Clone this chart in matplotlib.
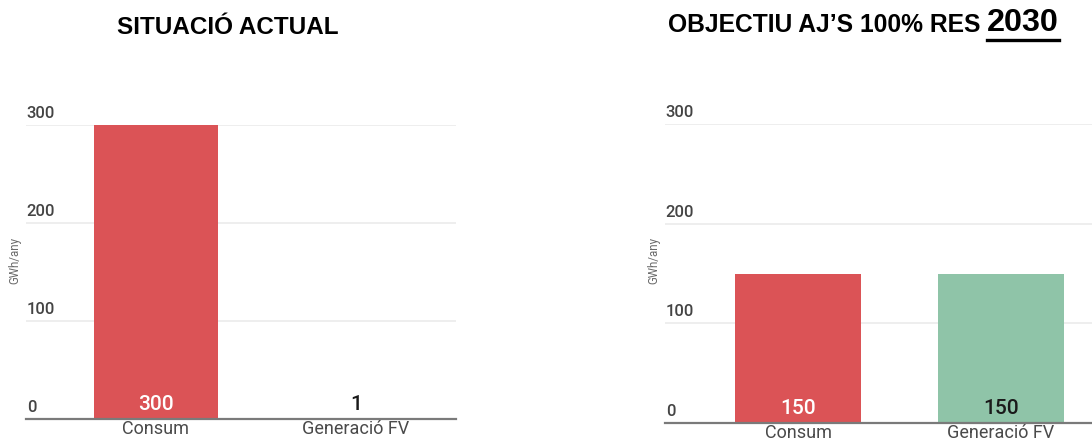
import matplotlib
matplotlib.use("Agg")
import matplotlib.pyplot as plt
from matplotlib.lines import Line2D
from matplotlib import transforms

categories = ["Consum", "Generació FV"]
actual_values = [300, 1]
target_values = [150, 150]
y_ticks = [0, 100, 200, 300]
y_label = "GWh/any"
title_left = "SITUACIÓ ACTUAL"
title_right_main = "OBJECTIU AJ’S 100% RES "
title_right_year = "2030"

RED = "#DB5356"
GREEN = "#8FC4A8"
W, H = 1092, 443
fig = plt.figure(figsize=(W / 100, H / 100), dpi=100)
fig.patch.set_facecolor("white")


def px_axes(x0, x1, ytop, ybot):
    return fig.add_axes([x0 / W, (H - ybot) / H, (x1 - x0) / W, (ybot - ytop) / H])


def draw_panel(ax, values, xlim, ylab_x):
    colors = [RED, GREEN]
    xs = list(range(len(categories)))
    ax.bar(xs, values, width=0.62, color=colors, zorder=2)
    ax.set_xlim(*xlim)
    ax.set_ylim(0, 300)
    for s in ["top", "right", "left"]:
        ax.spines[s].set_visible(False)
    ax.spines["bottom"].set_color("#7a7a7a")
    ax.spines["bottom"].set_linewidth(1.6)
    ax.spines["bottom"].set_zorder(3)
    ax.set_yticks(y_ticks)
    ax.set_yticklabels([])
    ax.tick_params(axis="y", length=0)
    ax.yaxis.grid(True, color="#ebebeb", linewidth=1.2, zorder=0)
    ax.set_axisbelow(True)
    ax.set_xticks(xs)
    ax.set_xticklabels(categories, family="Roboto", fontsize=13, color="#4a4a4a")
    ax.tick_params(axis="x", length=0, pad=1)
    trans = transforms.blended_transform_factory(ax.transAxes, ax.transData)
    for t in y_ticks:
        ax.text(0.002, t, str(t), transform=trans + transforms.ScaledTranslation(0, 4 / 100, fig.dpi_scale_trans),
                ha="left", va="bottom", family="Roboto", fontsize=12, fontweight="medium", color="#444444")
    for x, v, c in zip(xs, values, colors):
        tc = "white" if c == RED else "#1a1a1a"
        ax.text(x, 0, str(v), transform=ax.transData + transforms.ScaledTranslation(0, 14 / 100, fig.dpi_scale_trans),
                ha="center", va="center", family="Roboto", fontsize=15, fontweight="medium", color=tc, zorder=4)
    fig.text(ylab_x / W, 1 - 260 / H, y_label, rotation=90, ha="center", va="center",
             family="Roboto", fontsize=8.3, color="#6a6a6a")


ax1 = px_axes(26, 456, 125, 419)
draw_panel(ax1, actual_values, (-0.65, 1.5), 15)

ax2 = px_axes(665, 1092, 124, 423)
draw_panel(ax2, target_values, (-0.657, 1.45), 654)

fig.text(228 / W, 1 - 28 / H, title_left, ha="center", va="center",
         family="Liberation Sans", fontweight="bold", fontsize=17.5, color="black")

t1 = fig.text(668 / W, 1 - 25 / H, title_right_main, ha="left", va="center",
              family="Liberation Sans", fontweight="bold", fontsize=17.7, color="black")
t2 = fig.text(987 / W, 1 - 23 / H, title_right_year, ha="left", va="center",
              family="Liberation Sans", fontweight="bold", fontsize=23.3, color="black")
fig.canvas.draw()
bb = t2.get_window_extent()
fig.add_artist(Line2D([bb.x0 / W, bb.x1 / W], [(H - 40) / H, (H - 40) / H],
                      transform=fig.transFigure, color="black", linewidth=2.4))

fig.savefig("out.png", dpi=100, facecolor="white")
